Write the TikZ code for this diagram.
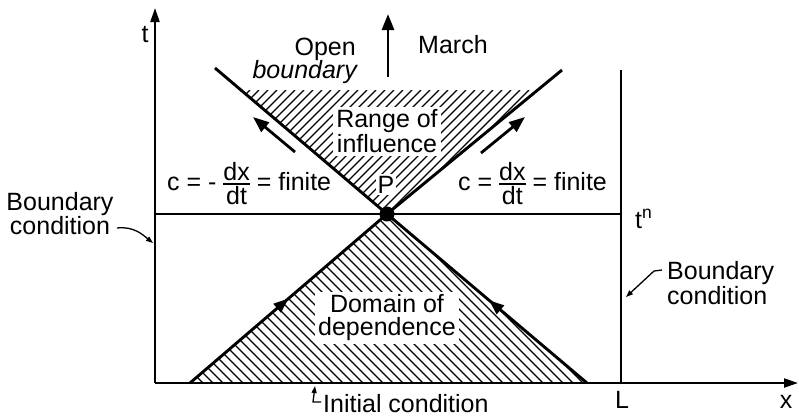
\documentclass[tikz,border=0pt]{standalone}
\usepackage{amsmath}
\usepackage{fontspec}
\setmainfont{Liberation Sans}
\usetikzlibrary{arrows.meta,decorations.markings}
\newcommand{\myfrac}[2]{\ensuremath{\vcenter{\hbox{\vbox{\offinterlineskip\halign{\hfil##\hfil\cr #1\cr\noalign{\kern2pt\hrule height 1.6pt\kern2pt}#2\cr}}}}}}
\tikzset{
  txt/.style={inner sep=0pt},
  thickline/.style={line width=2.9pt},
  axisline/.style={line width=2.2pt},
  hatch/.style={line width=1.2pt},
  bigarrow/.style={line width=2.8pt,-{Triangle[length=16pt,width=12pt]}},
  pointer/.style={line width=1.3pt,-{Triangle[length=7pt,width=5pt]}},
  midarrow/.style={postaction={decorate},decoration={markings,mark=at position #1 with {\arrow{Triangle[length=15pt,width=11pt]}}}},
  blank/.style={fill=white,inner sep=3pt}
}
\begin{document}
\begin{tikzpicture}[x=1pt,y=-1pt,font=\fontsize{25}{23}\selectfont]
\useasboundingbox (0,0) rectangle (799,418);
% key points
\coordinate (O) at (155,383);
\coordinate (T) at (155,8);
\coordinate (X) at (798,383);
\coordinate (Ltop) at (621,70);
\coordinate (Lbot) at (621,383);
\coordinate (Hl) at (155,214);
\coordinate (Hr) at (621,214);
\coordinate (P) at (387,214);
\coordinate (UL) at (215,68);
\coordinate (UR) at (562,70);
\coordinate (BL) at (190,383);
\coordinate (BR) at (587,383);
% hatching upper
\begin{scope}
\clip (P) -- (238.9,90) -- (537.7,90) -- cycle;
\foreach \c in {322,331,...,640} {\draw[hatch] (\c-214,214) -- (\c-90,90);}
\end{scope}
% hatching lower
\begin{scope}
\clip (P) -- (BL) -- (BR) -- cycle;
\foreach \c in {-200,-190,...,210} {\draw[hatch] (\c+214,214) -- (\c+383,383);}
\end{scope}
% white-backed labels in hatched areas
\node[blank,align=center,font=\fontsize{25}{25}\selectfont] (range) at (387,131.5) {Range of\\influence};
\node[blank,align=center,font=\fontsize{25}{23}\selectfont] (domain) at (387,318) {Domain of\\dependence};
\node[blank,inner sep=2pt,anchor=base] (plab) at (386,193) {P};
% axes
\draw[axisline,-{Triangle[length=14pt,width=9pt]}] (O) -- (T);
\draw[axisline,-{Triangle[length=14pt,width=9pt]}] (O) -- (X);
\draw[thickline] (Lbot) -- (Ltop);
\draw[thickline] (Hl) -- (Hr);
% characteristics
\draw[thickline] (UL) -- (P);
\draw[thickline] (UR) -- (P);
\draw[thickline,midarrow=0.5] (BL) -- (P);
\draw[thickline,midarrow=0.49] (BR) -- (P);
\fill (P) circle (7.5);
% arrows
\coordinate (aLs) at (295,152); \coordinate (aLe) at (253,117);
\coordinate (aRs) at (481,153); \coordinate (aRe) at (525,117);
\coordinate (mS) at (388,77); \coordinate (mE) at (388,14);
\draw[bigarrow] (aLs) -- (aLe);
\draw[bigarrow] (aRs) -- (aRe);
\draw[bigarrow] (mS) -- (mE);
% labels
\node[txt,anchor=base] (tlab) at (145,42) {t};
\node[txt,anchor=base] (xlab) at (786,408) {x};
\node[txt,anchor=base] (Llab) at (622,408) {L};
\node[txt,anchor=base west] (tn) at (635,228) {t\textsuperscript{n}};
\node[txt,anchor=base east] (open) at (356,55) {Open};
\node[txt,anchor=base east,font=\fontsize{25}{23}\selectfont\itshape] (obnd) at (357,78) {boundary};
\node[txt,anchor=base west] (march) at (418,53) {March};
\node[txt,anchor=base west] (cleft) at (167,190) {c = - \myfrac{dx}{dt} = finite};
\node[txt,anchor=base west] (cright) at (458,190) {c = \myfrac{dx}{dt} = finite};
\node[txt,align=center,font=\fontsize{25}{22}\selectfont] (bcl) at (60,213.5) {Boundary\\condition};
\node[txt,align=left,anchor=west,font=\fontsize{25}{25}\selectfont] (bcr) at (667,283.5) {Boundary\\condition};
\node[txt,anchor=base west] (init) at (323,412) {Initial condition};
% pointers
\coordinate (bclS) at (117,228); \coordinate (bclE) at (153,243);
\draw[pointer] (bclS) .. controls (134,226) and (143,235) .. (bclE);
\coordinate (bcrS) at (662,270); \coordinate (bcrM) at (654,271); \coordinate (bcrE) at (626,297);
\draw[pointer] (bcrS) -- (bcrM) -- (bcrE);
\coordinate (icS) at (321,402); \coordinate (icM) at (313,402); \coordinate (icE) at (315,386);
\draw[pointer] (icS) -- (icM) -- (icE);
\end{tikzpicture}
\end{document}
